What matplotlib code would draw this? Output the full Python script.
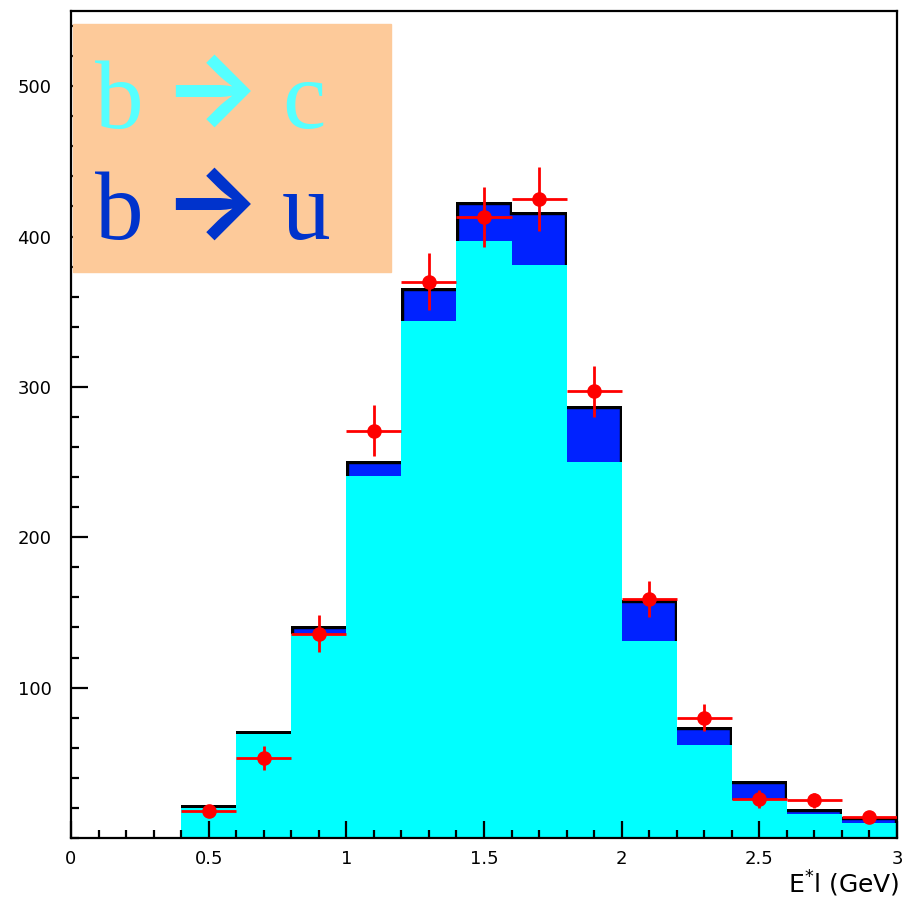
import numpy as np
import matplotlib
matplotlib.use("Agg")
import matplotlib.pyplot as plt
from matplotlib.ticker import MultipleLocator

# lepton energy spectrum, bins of 0.2 GeV
edges = np.round(np.arange(0.4, 3.01, 0.2), 2)
b_to_c = np.array([20, 69, 136, 241, 344, 397, 381, 250, 131, 62, 25, 16, 10])
b_to_u = np.array([2, 2, 5, 10, 22, 26, 35, 37, 27, 12, 13, 3, 4])

# measured points
data_x = np.round(np.arange(0.5, 2.91, 0.2), 2)
data_y = np.array([18, 53, 136, 271, 370, 413, 425, 297, 159, 80, 26, 25, 14])
data_err = np.array([4, 8, 12, 17, 19, 20, 21, 17, 12, 9, 6, 5, 3])

xtick_vals = [0, 0.5, 1, 1.5, 2, 2.5, 3]
xtick_text = ["0", "0.5", "1", "1.5", "2", "2.5", "3"]
ytick_vals = [100, 200, 300, 400, 500]

cyan = "#00ffff"
blue = "#0022ff"
red = "#ff0000"

fig = plt.figure(figsize=(9.02, 8.99), dpi=100)
ax = fig.add_axes([71 / 902, 1 - 838 / 899, 826 / 902, 827 / 899])
ax.set_axisbelow(False)

# total (b->c + b->u) in blue with a black border kept inside the fill,
# then b->c in cyan over it; ticks stay on top of the bars
total = b_to_c + b_to_u
fill_total = ax.stairs(total, edges, fill=True, color=blue, lw=0, zorder=1)
border = ax.stairs(total, edges, color="black", lw=3.9, zorder=1.5)
border.set_clip_path(fill_total)
ax.stairs(b_to_c, edges, fill=True, color=cyan, lw=0, zorder=2)

ax.errorbar(data_x, data_y, xerr=0.1, yerr=data_err, fmt="o", color=red,
            ms=9.5, elinewidth=2, capsize=0, zorder=5)

ax.set_xlim(0, 3)
ax.set_ylim(0, 550)
ax.set_xticks(xtick_vals)
ax.set_xticklabels(xtick_text)
ax.set_yticks(ytick_vals)
ax.xaxis.set_minor_locator(MultipleLocator(0.1))
ax.yaxis.set_minor_locator(MultipleLocator(20))
ax.tick_params(which="both", direction="in", width=1.6, labelsize=13)
ax.tick_params(which="major", length=12)
ax.tick_params(which="minor", length=6)
ax.tick_params(axis="x", pad=9)
ax.tick_params(axis="y", pad=14)
for sp in ax.spines.values():
    sp.set_linewidth(1.6)

fig.text(900 / 902, 1 - 893 / 899, "E$^{*}$l (GeV)", ha="right", va="baseline",
         fontsize=18, family="DejaVu Sans")

# legend panel
ax.add_patch(plt.Rectangle((73 / 902, 1 - 272 / 899), 318 / 902, 248 / 899,
                           transform=fig.transFigure, color="#fdca9a",
                           zorder=6, clip_on=False))
serif = ["Liberation Serif", "DejaVu Serif"]
rows = [("c", "#55ffff", 128, 124), ("u", "#0033cc", 239, 237)]
for tail, col, base, arrow_base in rows:
    y = 1 - base / 899
    fig.text(95 / 902, y, "b", color=col, fontsize=70, family=serif,
             va="baseline", zorder=7)
    fig.text(162 / 902, 1 - arrow_base / 899, "\u2192", color=col, fontsize=74,
             family=["Inter", "DejaVu Sans"], weight="bold", va="baseline", zorder=7)
    fig.text(282 / 902, y, tail, color=col, fontsize=70, family=serif,
             va="baseline", zorder=7)

fig.savefig("out.png", dpi=100)
